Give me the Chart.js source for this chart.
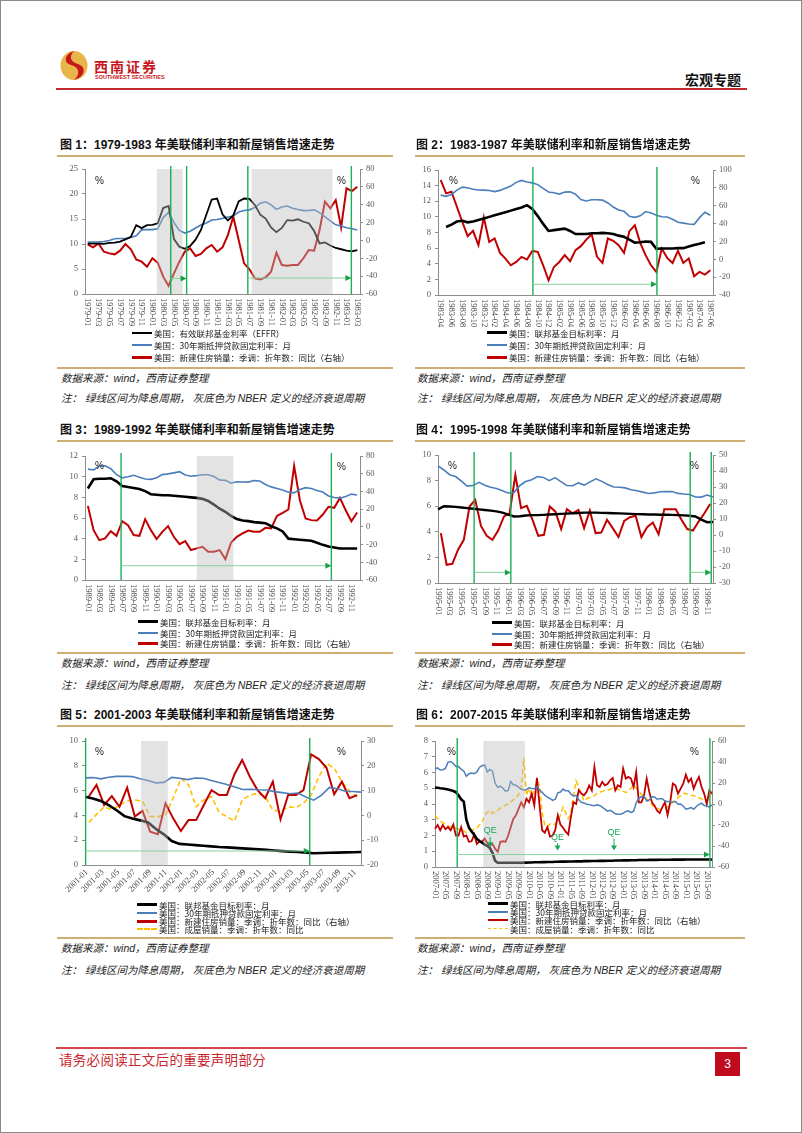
<!DOCTYPE html>
<html lang="zh-CN">
<head>
<meta charset="UTF-8">
<title>宏观专题</title>
<script src="https://cdn.jsdelivr.net/npm/chart.js@4.4.1/dist/chart.umd.min.js"></script>
<style>
  body { margin: 0; background: #fff; font-family: "Noto Sans CJK SC", sans-serif; }
  #page { position: relative; width: 802px; height: 1133px; overflow: hidden; background: #fff; }
  .frame { position: absolute; left: 0; top: 0; width: 800px; height: 1131px; border: 1px solid #8a8a8a; }
  .abs { position: absolute; white-space: nowrap; }
  .title { font-size: 12px; font-weight: bold; color: #111; line-height: 14px; font-family: "Liberation Sans", "Noto Sans CJK SC", sans-serif; }
  .rule { position: absolute; height: 1.5px; background: #cfae72; }
  .src { font-size: 10.5px; font-style: italic; color: #222; line-height: 12px; font-family: "Liberation Sans", "Noto Sans CJK SC", sans-serif; }
  .leg { font-size: 8.5px; color: #222; line-height: 10px; }
  .sw { position: absolute; }
  .pct { font-size: 10px; color: #222; font-family: "Liberation Sans", sans-serif; line-height: 12px; }
  canvas { position: absolute; }
</style>
</head>
<body>
<div id="page">
  <div class="frame"></div>

  <!-- header -->
  <svg class="abs" style="left:59px;top:50px" width="30" height="31" viewBox="0 0 30 31">
    <ellipse cx="15" cy="15.5" rx="13.5" ry="14.5" fill="#e8b54a"/>
    <path d="M15 1 C5 4 4 13 12 15 C20 17 22 24 15 30 C26 27 28 17 19 14 C11 12 10 6 15 1Z" fill="#c8161d"/>
  </svg>
  <div class="abs" style="left:94px;top:58px;font-size:14px;font-weight:bold;color:#c8161d;letter-spacing:2px;line-height:16px">西南证券</div>
  <div class="abs" style="left:95px;top:74px;font-size:5.5px;font-weight:bold;color:#c8161d;font-family:'Liberation Sans';line-height:6px">SOUTHWEST SECURITIES</div>
  <div class="abs" style="left:685px;top:71px;font-size:14px;font-weight:bold;color:#111;line-height:16px">宏观专题</div>
  <div class="abs" style="left:56px;top:88px;width:691px;height:2px;background:#c0282d"></div>

  <!-- footer -->
  <div class="abs" style="left:56px;top:1047px;width:691px;height:1.5px;background:#d9434b"></div>
  <div class="abs" style="left:59px;top:1051px;font-size:13.5px;color:#c8262e;line-height:16px;letter-spacing:0.3px">请务必阅读正文后的重要声明部分</div>
  <div class="abs" style="left:715px;top:1052px;width:25px;height:24px;background:#c00a1e;color:#fff;font-size:12px;line-height:24px;text-align:center;font-family:'Liberation Sans'">3</div>
</div>

<script>
// ---------- data ----------
function months(y, m, n) {
  const out = [];
  for (let k = 0; k < n; k++) {
    const mm = m - 1 + k;
    out.push((y + Math.floor(mm / 12)) + '-' + String(mm % 12 + 1).padStart(2, '0'));
  }
  return out;
}

// fig 1: 1979-01 .. 1983-03
const labels1 = months(1979, 1, 51);
const ffr1 = [10.07,10.06,10.09,10.01,10.24,10.29,10.47,10.94,11.43,13.77,13.18,13.78,
  13.82,14.13,17.19,17.61,10.98,9.47,9.03,9.61,10.87,12.81,15.85,18.90,
  19.08,15.93,14.70,15.72,18.52,19.10,19.04,17.82,15.87,15.08,13.31,12.37,
  13.22,14.78,14.68,14.94,14.45,14.15,12.59,10.12,10.31,9.71,9.20,8.95,
  8.68,8.51,8.77];
const mort1 = [10.39,10.41,10.43,10.50,10.69,11.04,11.09,11.09,11.30,11.64,12.83,12.90,
  12.88,13.04,15.28,16.32,14.26,12.71,12.19,12.56,13.20,13.79,14.21,14.79,
  14.90,15.13,15.40,15.58,16.40,16.70,16.83,17.29,18.16,18.45,17.83,16.92,
  17.40,17.60,17.16,16.89,16.68,16.70,16.82,16.27,15.43,14.61,13.83,13.62,
  13.25,13.04,12.80];
const sales1 = [-4.4,-7.8,-3.3,-12.6,-14.5,-15.6,-11.5,-4,-10,-21.2,-23.8,-29.4,
  -20,-25,-40.6,-50.7,-36.9,-23.8,-12.6,-8.9,-17.5,-15.2,-8.9,-5.1,
  -12.6,-7.8,6,26.6,0.4,-25.7,-32.4,-42.5,-43.6,-41.3,-35,-13.7,
  -27.5,-28.3,-27.5,-27.5,-20,-10.7,-11.5,11.6,43.4,35.9,45.2,14.6,
  58.3,55.3,60.1];

// fig 2: 1983-04 .. 1987-06
const labels2 = months(1983, 4, 51);
const ffr2 = [null,8.7,9.0,9.4,9.5,9.3,9.4,9.6,9.8,10.0,10.2,10.4,10.6,10.8,11.0,11.2,11.5,
  11.0,10.1,9.1,8.2,8.3,8.4,8.5,8.2,7.8,7.8,7.8,7.9,7.9,7.95,7.9,7.8,7.6,7.45,7.1,
  6.7,6.75,6.85,6.8,5.9,5.95,5.95,5.95,6.0,6.0,6.2,6.4,6.55,6.75,null];
const mort2 = [12.78,12.63,12.87,13.42,13.81,13.73,13.54,13.44,13.42,
  13.37,13.23,13.39,13.65,13.94,14.42,14.67,14.47,14.35,14.13,13.64,13.18,
  13.08,12.92,13.17,13.20,12.91,12.22,12.03,12.19,12.19,12.14,11.78,11.26,
  10.88,10.71,10.08,9.94,10.14,10.68,10.51,10.20,10.01,9.98,9.70,9.32,
  9.20,9.08,9.04,9.9,10.6,10.2];
const sales2 = [88.8,73.8,75.7,58.8,42,25.9,31.9,15.8,46.9,19.5,23.3,7.2,0.8,-6.7,-3,2.7,-0.3,
  9.4,8.3,-6.7,-23.5,-8.6,-3,4.6,-2.2,10.2,14.7,22.1,28.1,2.7,-4.1,23.3,20.7,15.8,7.2,
  31.5,38.2,18.4,4.6,-6.7,-14.2,12,1.6,-4.1,9.4,-4.1,0.8,-19,-14.2,-17.2,-12.3];

// fig 3: 1989-01 .. 1992-12
const labels3 = months(1989, 1, 48);
const ffr3 = [8.85,9.75,9.8,9.8,9.85,9.55,9.1,9.0,8.9,8.8,8.6,8.3,
  8.25,8.2,8.2,8.15,8.1,8.05,8.0,7.95,7.85,7.65,7.3,6.9,
  6.6,6.2,5.9,5.75,5.7,5.6,5.55,5.5,5.2,5.0,4.7,4.0,
  3.95,3.9,3.85,3.8,3.6,3.4,3.25,3.15,3.05,3.05,3.05,3.05];
const mort3 = [10.73,10.65,11.03,11.05,10.77,10.20,9.88,9.99,10.13,9.95,9.77,9.74,
  9.90,10.20,10.27,10.37,10.48,10.16,10.04,10.10,10.18,10.18,10.01,9.67,
  9.64,9.37,9.50,9.49,9.47,9.62,9.58,9.24,9.01,8.86,8.71,8.50,
  8.43,8.76,8.94,8.85,8.67,8.51,8.13,7.98,7.92,8.09,8.31,8.22];
const sales3 = [23.7,-3.7,-15,-13.1,-4.8,-10.1,6.4,1.9,-9.3,-10.1,8.7,-3.7,
  -13.8,-5.6,0.8,-11.2,-19.5,-16.1,-26.2,-24.3,-22.5,-28.1,-28.1,-26.2,
  -36.4,-17.6,-11.2,-7.4,-4.1,-5.6,-5.6,-1.1,-1.8,12.4,15.8,19.6,
  68.8,30.1,9.4,7.6,7.2,13.9,22.6,21.5,32.7,18.8,6.4,16.2];

// fig 4: 1995-01 .. 1998-12
const labels4 = months(1995, 1, 48);
const ffr4 = [5.75,6.0,5.98,5.95,5.9,5.85,5.8,5.75,5.7,5.65,5.6,5.5,
  5.35,5.2,5.22,5.27,5.3,5.3,5.32,5.35,5.37,5.4,5.42,5.45,
  5.47,5.5,5.5,5.5,5.48,5.47,5.45,5.44,5.42,5.4,5.38,5.37,
  5.35,5.35,5.33,5.33,5.32,5.3,5.28,5.25,5.2,4.95,4.75,4.77];
const mort4 = [9.15,8.83,8.46,8.32,7.96,7.57,7.61,7.86,7.64,7.48,7.38,7.20,
  7.03,7.08,7.62,7.93,8.07,8.32,8.25,8.00,8.23,7.92,7.62,7.60,
  7.82,7.65,7.90,8.14,7.94,7.69,7.50,7.48,7.43,7.29,7.21,7.10,
  6.99,7.04,7.13,7.14,7.14,7.00,6.95,6.92,6.72,6.71,6.87,6.72];
const sales4 = [1.2,-18.6,-18,-9.2,-3,17.8,21.9,5.7,-0.5,-3,2.8,11.5,
  13.6,37.5,16.8,18.2,9.5,-0.5,0.1,17.8,14.6,3.7,16.1,13.6,
  15.7,4.3,15.3,1.2,1.5,9.5,4.3,-1.3,8.8,11.1,12,-1.3,
  4.9,7.8,0.5,16.1,16.1,16.1,9.5,3.7,2.8,8.4,13.6,19.4];

// fig 5: 2001-01 .. 2003-12
const labels5 = months(2001, 1, 36);
const ffr5 = [5.5,5.37,5.17,4.83,4.42,3.94,3.75,3.6,3.43,2.9,2.47,1.93,
  1.7,1.65,1.6,1.55,1.5,1.45,1.42,1.38,1.34,1.3,1.26,1.22,
  1.17,1.12,1.08,1.05,1.0,0.95,0.97,0.99,1.0,1.02,1.03,1.05];
const mort5 = [7.03,7.05,6.95,7.08,7.15,7.16,7.13,6.95,6.82,6.62,6.66,7.07,
  7.00,6.89,7.01,6.99,6.81,6.65,6.49,6.29,6.09,6.11,6.07,6.05,
  5.92,5.84,5.75,5.81,5.48,5.23,5.63,6.26,6.15,5.95,5.93,5.88];
const sales5 = [7.6,12.3,4.2,7.8,3.5,11.2,-0.5,1.8,-6.6,-7.6,4.9,-1.2,
  -6.3,-1.9,-1.9,4.2,10.2,8.2,8.2,16.6,22.3,15.6,10.2,6.9,
  13.6,-1.6,8.2,8.2,10.2,24.6,22.7,19.2,8.5,13.6,6.9,8.2];
const exist5 = [-2.8,0.4,3.5,2.2,4.2,5.8,6.2,5.8,-0.5,-0.5,0.2,6.9,
  14.9,12.3,3.5,6.2,7.6,1.2,-0.5,-2.3,6.2,8.2,8.9,7.6,
  2.2,1.5,3.5,3.1,4.9,8.2,15.6,21,19,13.6,9.8,7.6];

// fig 6: 2007-01 .. 2015-11
const labels6 = months(2007, 1, 107);
const ffr6 = [5.05,5.03,5.0,4.98,4.95,4.92,4.88,4.82,4.75,4.55,4.3,4.15,
  3.0,2.5,2.25,2.05,1.8,1.65,1.55,1.42,1.35,1.2,0.9,0.4,
  0.27,0.27,0.27,0.27,0.27,0.27,0.27,0.27,0.27,0.27,0.28,0.28,
  0.29,0.29,0.3,0.3,0.3,0.31,0.31,0.32,0.32,0.32,0.33,0.33,
  0.34,0.34,0.34,0.35,0.35,0.35,0.36,0.36,0.36,0.37,0.37,0.37,
  0.38,0.38,0.38,0.39,0.39,0.39,0.4,0.4,0.4,0.41,0.41,0.41,
  0.42,0.42,0.42,0.43,0.43,0.43,0.44,0.44,0.44,0.44,0.45,0.45,
  0.45,0.45,0.46,0.46,0.46,0.46,0.46,0.47,0.47,0.47,0.47,0.47,
  0.48,0.48,0.48,0.48,0.48,0.48,0.48,0.48,0.48,0.48,0.48];
const mort6 = [6.22,6.29,6.16,6.18,6.26,6.66,6.70,6.57,6.38,6.38,6.21,6.10,
  5.76,5.92,5.97,5.92,6.04,6.32,6.43,6.48,6.04,6.20,6.09,5.33,
  5.06,5.13,5.00,4.81,4.86,5.42,5.22,5.19,5.06,4.95,4.88,4.93,
  5.03,4.99,4.97,5.10,4.89,4.74,4.56,4.43,4.35,4.23,4.30,4.71,
  4.76,4.95,4.84,4.84,4.64,4.51,4.55,4.27,4.11,4.07,3.99,3.96,
  3.92,3.89,3.95,3.91,3.80,3.68,3.55,3.60,3.50,3.38,3.35,3.35,
  3.41,3.53,3.57,3.45,3.54,4.07,4.37,4.46,4.49,4.19,4.26,4.46,
  4.45,4.30,4.34,4.34,4.19,4.16,4.13,4.12,4.16,3.98,4.00,3.86,
  3.67,3.71,3.77,3.67,3.84,3.98,4.05,3.91,3.89,3.80,3.94];
const sales6 = [-23.5,-20,-25,-20,-24,-22,-25,-19.5,-30,-30,-22,-31,
  -30,-36,-35.5,-29,-38,-35.5,-36,-33,-37,-39.5,-38,-42.5,
  -45.6,-36,-35.5,-36,-30,-22,-14,-10.8,-4.4,1.6,-3,5,
  1.6,9.9,-1.2,24.8,-1.2,-25,-27.3,-22,-31,-30,-25,-10.8,
  -19.5,-22.6,-26.3,-29,-12.4,1.6,0,13,9.9,8.3,11.5,17.8,
  13,35.3,17.8,16.2,21,17.8,19,22.6,24.8,13,17.8,16.2,
  33.7,24.2,25.8,24.2,16.2,30.5,1.6,1.6,8.3,24.2,11.5,1.6,
  -1.6,-6.3,-8.6,-3,1.6,-10.5,1.6,19.4,17.8,9.9,14.6,19.4,
  28,21,24.2,14.6,21,25.8,16.2,9.9,0,13,9.9];
const exist6 = [-11,-14,-16,-18,-19,-21,-22,-22,-23,-24,-25,-26,
  -27,-26,-25,-24,-23,-20,-17.7,-11,-8,-6,-9,-7,
  -6,-4,-3,-1,0,2,4,6,9,15,44,8,
  15,7,12,22,18,-8,-20,-22,-19,-20,-19,-15,
  -11,-3,-8,-14,-9,8,22,16,10,3,5,6,
  7,8,10,11,12,13,13,14,15,14,14,13,
  12,11,12,15,18,15,12,9,8,5,2,-1,
  -3,-4,-5,-5,-5,-3,-1,2,4,6,8,10,
  10,9,8,8,7,6,5,3,2,8,10];

// legend texts
const legEffr = ['美国：有效联邦基金利率（EFFR）', '美国：30年期抵押贷款固定利率：月', '美国：新建住房销量：季调：折年数：同比（右轴）'];
const legStd = ['美国：联邦基金目标利率：月', '美国：30年期抵押贷款固定利率：月', '美国：新建住房销量：季调：折年数：同比（右轴）'];
const legExist = '美国：成屋销量：季调：折年数：同比';

// ---------- styles ----------
const BLACK = '#000000', BLUE = '#4a7ebb', RED = '#c00000', YELLOW = '#ffc000';
const AX = '#8c8c8c', TK = '#595959';

function line(data, color, w, opts) {
  return Object.assign({ data, color, w }, opts || {});
}

const panels = [
  { title: '图 1：1979-1983 年美联储利率和新屋销售增速走势', col: 0, row: 0,
    plot: [85, 169, 360, 294], labels: labels1, offset: true, step: 2, rot: 90,
    yl: [0, 25, 5], yr: [-60, 80, 20],
    series: [line(ffr1, BLACK, 1.8), line(mort1, BLUE, 1.6), line(sales1, RED, 2, { right: true })],
    legend: legEffr, legX: 132, legY: [333, 345, 357],
    pct: [[100, 181], [342, 181]],
    shade: [[12.8, 17.6], [30.4, 45.4]], cuts: [15.4, 18.35, 29.7, 48.9],
    arrows: [[15.4, 18.35, 3.1], [29.7, 48.9, 3.2]] },
  { title: '图 2：1983-1987 年美联储利率和新屋销售增速走势', col: 1, row: 0,
    plot: [438, 170, 713, 295], labels: labels2, offset: true, step: 2, rot: 90,
    yl: [0, 16, 2], yr: [-40, 100, 20],
    series: [line(ffr2, BLACK, 2.6), line(mort2, BLUE, 1.6), line(sales2, RED, 2, { right: true })],
    legend: legStd, legX: 487, legY: [333, 345, 357],
    pct: [[454, 181], [696, 181]],
    cuts: [17.1, 40.1], arrows: [[17.1, 40.1, 1.37]] },
  { title: '图 3：1989-1992 年美联储利率和新屋销售增速走势', col: 0, row: 1,
    plot: [85, 456, 360, 580], labels: labels3, offset: true, step: 2, rot: 90,
    yl: [0, 12, 2], yr: [-60, 80, 20],
    series: [line(ffr3, BLACK, 2.6), line(mort3, BLUE, 1.6), line(sales3, RED, 2, { right: true })],
    legend: legStd, legX: 138, legY: [622, 633, 643],
    pct: [[100, 466], [342, 467]],
    shade: [[19.0, 25.4]], cuts: [5.8, 42.5], arrows: [[5.8, 42.5, 1.38]] },
  { title: '图 4：1995-1998 年美联储利率和新屋销售增速走势', col: 1, row: 1,
    plot: [438, 455, 713, 583], labels: labels4, offset: false, step: 2, rot: 90,
    yl: [0, 10, 1], yr: [-30, 50, 10],
    series: [line(ffr4, BLACK, 2.4), line(mort4, BLUE, 1.6), line(sales4, RED, 2, { right: true, x2: true })],
    legend: legStd, legX: 492, legY: [623, 634, 644],
    pct: [[453, 466], [695, 466]],
    cuts: [6.17, 12.45, 43.1, 46.7], arrows: [[6.17, 12.45, 0.83], [43.1, 46.7, 0.83]] },
  { title: '图 5：2001-2003 年美联储利率和新屋销售增速走势', col: 0, row: 2,
    plot: [85, 741, 361, 865], labels: labels5, offset: false, step: 2, rot: 45,
    yl: [0, 10, 2], yr: [-20, 30, 10],
    series: [line(ffr5, BLACK, 2.6), line(mort5, BLUE, 1.6), line(sales5, RED, 2, { right: true, x2: true }),
             line(exist5, YELLOW, 1.6, { right: true, x2: true, dash: [5, 3] })],
    legend: legStd.concat([legExist]), legX: 137, legY: [905, 913, 921, 929],
    pct: [[100, 752], [342, 752]],
    shade: [[7.1, 10.5]], cuts: [0.08, 28.5], arrows: [[0.08, 28.5, 1.13]] },
  { title: '图 6：2007-2015 年美联储利率和新屋销售增速走势', col: 1, row: 2,
    plot: [435, 741, 712, 867], labels: labels6, offset: false, step: 4, rot: 90,
    yl: [0, 8, 1], yr: [-60, 60, 20],
    series: [line(ffr6, BLACK, 2.6), line(mort6, BLUE, 1.5), line(sales6, RED, 1.8, { right: true }),
             line(exist6, YELLOW, 1.5, { right: true, dash: [5, 3] })],
    legend: legStd.concat([legExist]), legX: 488, legY: [904, 912, 920, 929],
    pct: [[452, 752], [695, 752]],
    shade: [[18.5, 34.4]], cuts: [8.5, 105.2], arrows: [[8.5, 105.2, 0.79]],
    qe: [[21.1, 2.3, 1.25], [46.9, 1.9, 1.05], [68.5, 2.2, 1.05]] }
];

// page layout of the text blocks
const rowTitle = [145, 430, 715], rowRuleTop = [155, 440, 725], rowRuleBot = [367, 652, 937];
const rowSrc = [378, 663, 948], rowNote = [398, 685, 970];
const colX0 = [57, 415], colX1 = [393, 745], colText = [61, 417];

const page = document.getElementById('page');
function add(cls, style, text) {
  const d = document.createElement('div');
  d.className = cls;
  d.style.cssText = style;
  if (text != null) d.textContent = text;
  page.appendChild(d);
  return d;
}

Chart.defaults.font.family = '"Liberation Serif", serif';
Chart.defaults.font.size = 8.5;
Chart.defaults.color = TK;

function deco(p) {
  return {
    id: 'deco',
    afterDatasetsDraw(chart) {
      const ctx = chart.ctx, a = chart.chartArea, x = chart.scales.x, y = chart.scales.y;
      ctx.save();
      // NBER recession shading, drawn over the lines
      ctx.fillStyle = 'rgba(188,188,188,0.42)';
      (p.shade || []).forEach(s => {
        const x0 = x.getPixelForValue(s[0]), x1 = x.getPixelForValue(s[1]);
        ctx.fillRect(x0, a.top, x1 - x0, a.bottom - a.top);
      });
      // green easing-cycle markers
      ctx.strokeStyle = '#1aaf54';
      ctx.lineWidth = 1.4;
      (p.cuts || []).forEach(c => {
        const px = x.getPixelForValue(c);
        ctx.beginPath(); ctx.moveTo(px, a.top - 3); ctx.lineTo(px, a.bottom); ctx.stroke();
      });
      (p.arrows || []).forEach(r => {
        const x0 = x.getPixelForValue(r[0]), x1 = x.getPixelForValue(r[1]), py = y.getPixelForValue(r[2]);
        ctx.strokeStyle = '#86d39c'; ctx.lineWidth = 1;
        ctx.beginPath(); ctx.moveTo(x0, py); ctx.lineTo(x1 - 4, py); ctx.stroke();
        ctx.fillStyle = '#1a9f48';
        ctx.beginPath(); ctx.moveTo(x1, py); ctx.lineTo(x1 - 6, py - 3); ctx.lineTo(x1 - 6, py + 3); ctx.closePath(); ctx.fill();
      });
      (p.qe || []).forEach(q => {
        const px = x.getPixelForValue(q[0]), ty = y.getPixelForValue(q[1]), tip = y.getPixelForValue(q[2]);
        ctx.fillStyle = '#19a65a'; ctx.strokeStyle = '#19a65a'; ctx.lineWidth = 1;
        ctx.font = '9px "Liberation Sans"'; ctx.textAlign = 'center'; ctx.textBaseline = 'middle';
        ctx.fillText('QE', px, ty);
        ctx.beginPath(); ctx.moveTo(px, ty + 6); ctx.lineTo(px, tip - 4); ctx.stroke();
        ctx.beginPath(); ctx.moveTo(px, tip); ctx.lineTo(px - 3, tip - 5); ctx.lineTo(px + 3, tip - 5); ctx.closePath(); ctx.fill();
      });
      // x labels: vertical, read top to bottom (or 45 degrees)
      ctx.fillStyle = '#404040';
      ctx.font = '8.5px "Liberation Serif"';
      ctx.textBaseline = 'middle';
      chart.data.labels.forEach((lab, i) => {
        if (i % p.step) return;
        const px = x.getPixelForValue(i);
        ctx.save();
        if (p.rot === 45) {
          ctx.translate(px + 2, a.bottom + 6); ctx.rotate(-Math.PI / 4); ctx.textAlign = 'right';
        } else {
          ctx.translate(px, a.bottom + 4); ctx.rotate(Math.PI / 2); ctx.textAlign = 'left';
        }
        ctx.fillText(lab, 0, 0);
        ctx.restore();
      });
      ctx.restore();
    }
  };
}

function build(p) {
  const [l, t, r, b] = p.plot;
  const W = r - l + 80, H = b - t + 12 + 38;
  const cv = document.createElement('canvas');
  cv.width = W; cv.height = H;
  cv.style.left = (l - 45) + 'px'; cv.style.top = (t - 12) + 'px';
  cv.style.width = W + 'px'; cv.style.height = H + 'px';
  page.appendChild(cv);

  new Chart(cv, {
    type: 'line',
    data: {
      labels: p.labels,
      datasets: p.series.map(s => ({
        data: s.data, borderColor: s.color, borderWidth: s.w, borderDash: s.dash || [],
        pointRadius: 0, tension: 0, fill: false,
        yAxisID: s.right ? 'y1' : 'y', xAxisID: s.x2 ? 'x2' : 'x'
      }))
    },
    options: {
      responsive: false, animation: false, devicePixelRatio: 1,
      layout: { padding: { top: 12, left: 0, right: 0, bottom: 0 } },
      plugins: { legend: { display: false }, tooltip: { enabled: false } },
      scales: {
        x: { type: 'category', offset: p.offset, ticks: { display: false }, grid: { display: false },
             border: { color: AX }, afterFit(s) { s.height = 38; } },
        x2: { type: 'category', offset: true, display: false },
        y: { position: 'left', min: p.yl[0], max: p.yl[1],
             ticks: { stepSize: p.yl[2], padding: 4 },
             grid: { drawOnChartArea: false, tickLength: 3, color: AX }, border: { color: AX },
             afterFit(s) { s.width = 45; } },
        y1: { position: 'right', min: p.yr[0], max: p.yr[1],
              ticks: { stepSize: p.yr[2], padding: 3 },
              grid: { drawOnChartArea: false, tickLength: 3, color: AX }, border: { color: AX },
              afterFit(s) { s.width = 35; } }
      }
    },
    plugins: [deco(p)]
  });

  // titles, rules, source and note
  const c = p.col, rw = p.row;
  add('abs title', `left:${colText[c] - 1}px;top:${rowTitle[rw] - 7}px`, p.title);
  add('rule', `left:${colX0[c]}px;top:${rowRuleTop[rw]}px;width:${colX1[c] - colX0[c]}px`);
  add('rule', `left:${colX0[c]}px;top:${rowRuleBot[rw]}px;width:${colX1[c] - colX0[c]}px`);
  add('abs src', `left:${colText[c]}px;top:${rowSrc[rw] - 6}px`, '数据来源：wind，西南证券整理');
  add('abs src', `left:${colText[c]}px;top:${rowNote[rw] - 6}px`, '注： 绿线区间为降息周期， 灰底色为 NBER 定义的经济衰退周期');

  // legend
  p.series.forEach((s, i) => {
    const y = p.legY[i];
    add('sw', `left:${p.legX}px;top:${y - Math.round(s.w * 0.7)}px;width:20px;` +
      (s.dash ? `border-top:${s.w + 0.4}px dashed ${s.color};height:0` : `height:${s.w + 0.6}px;background:${s.color}`));
    add('abs leg', `left:${p.legX + 22}px;top:${y - 5}px`, p.legend[i]);
  });
  p.pct.forEach(q => add('abs pct', `left:${q[0] - 5}px;top:${q[1] - 6}px`, '%'));
}

panels.forEach(build);
</script>
</body>
</html>
